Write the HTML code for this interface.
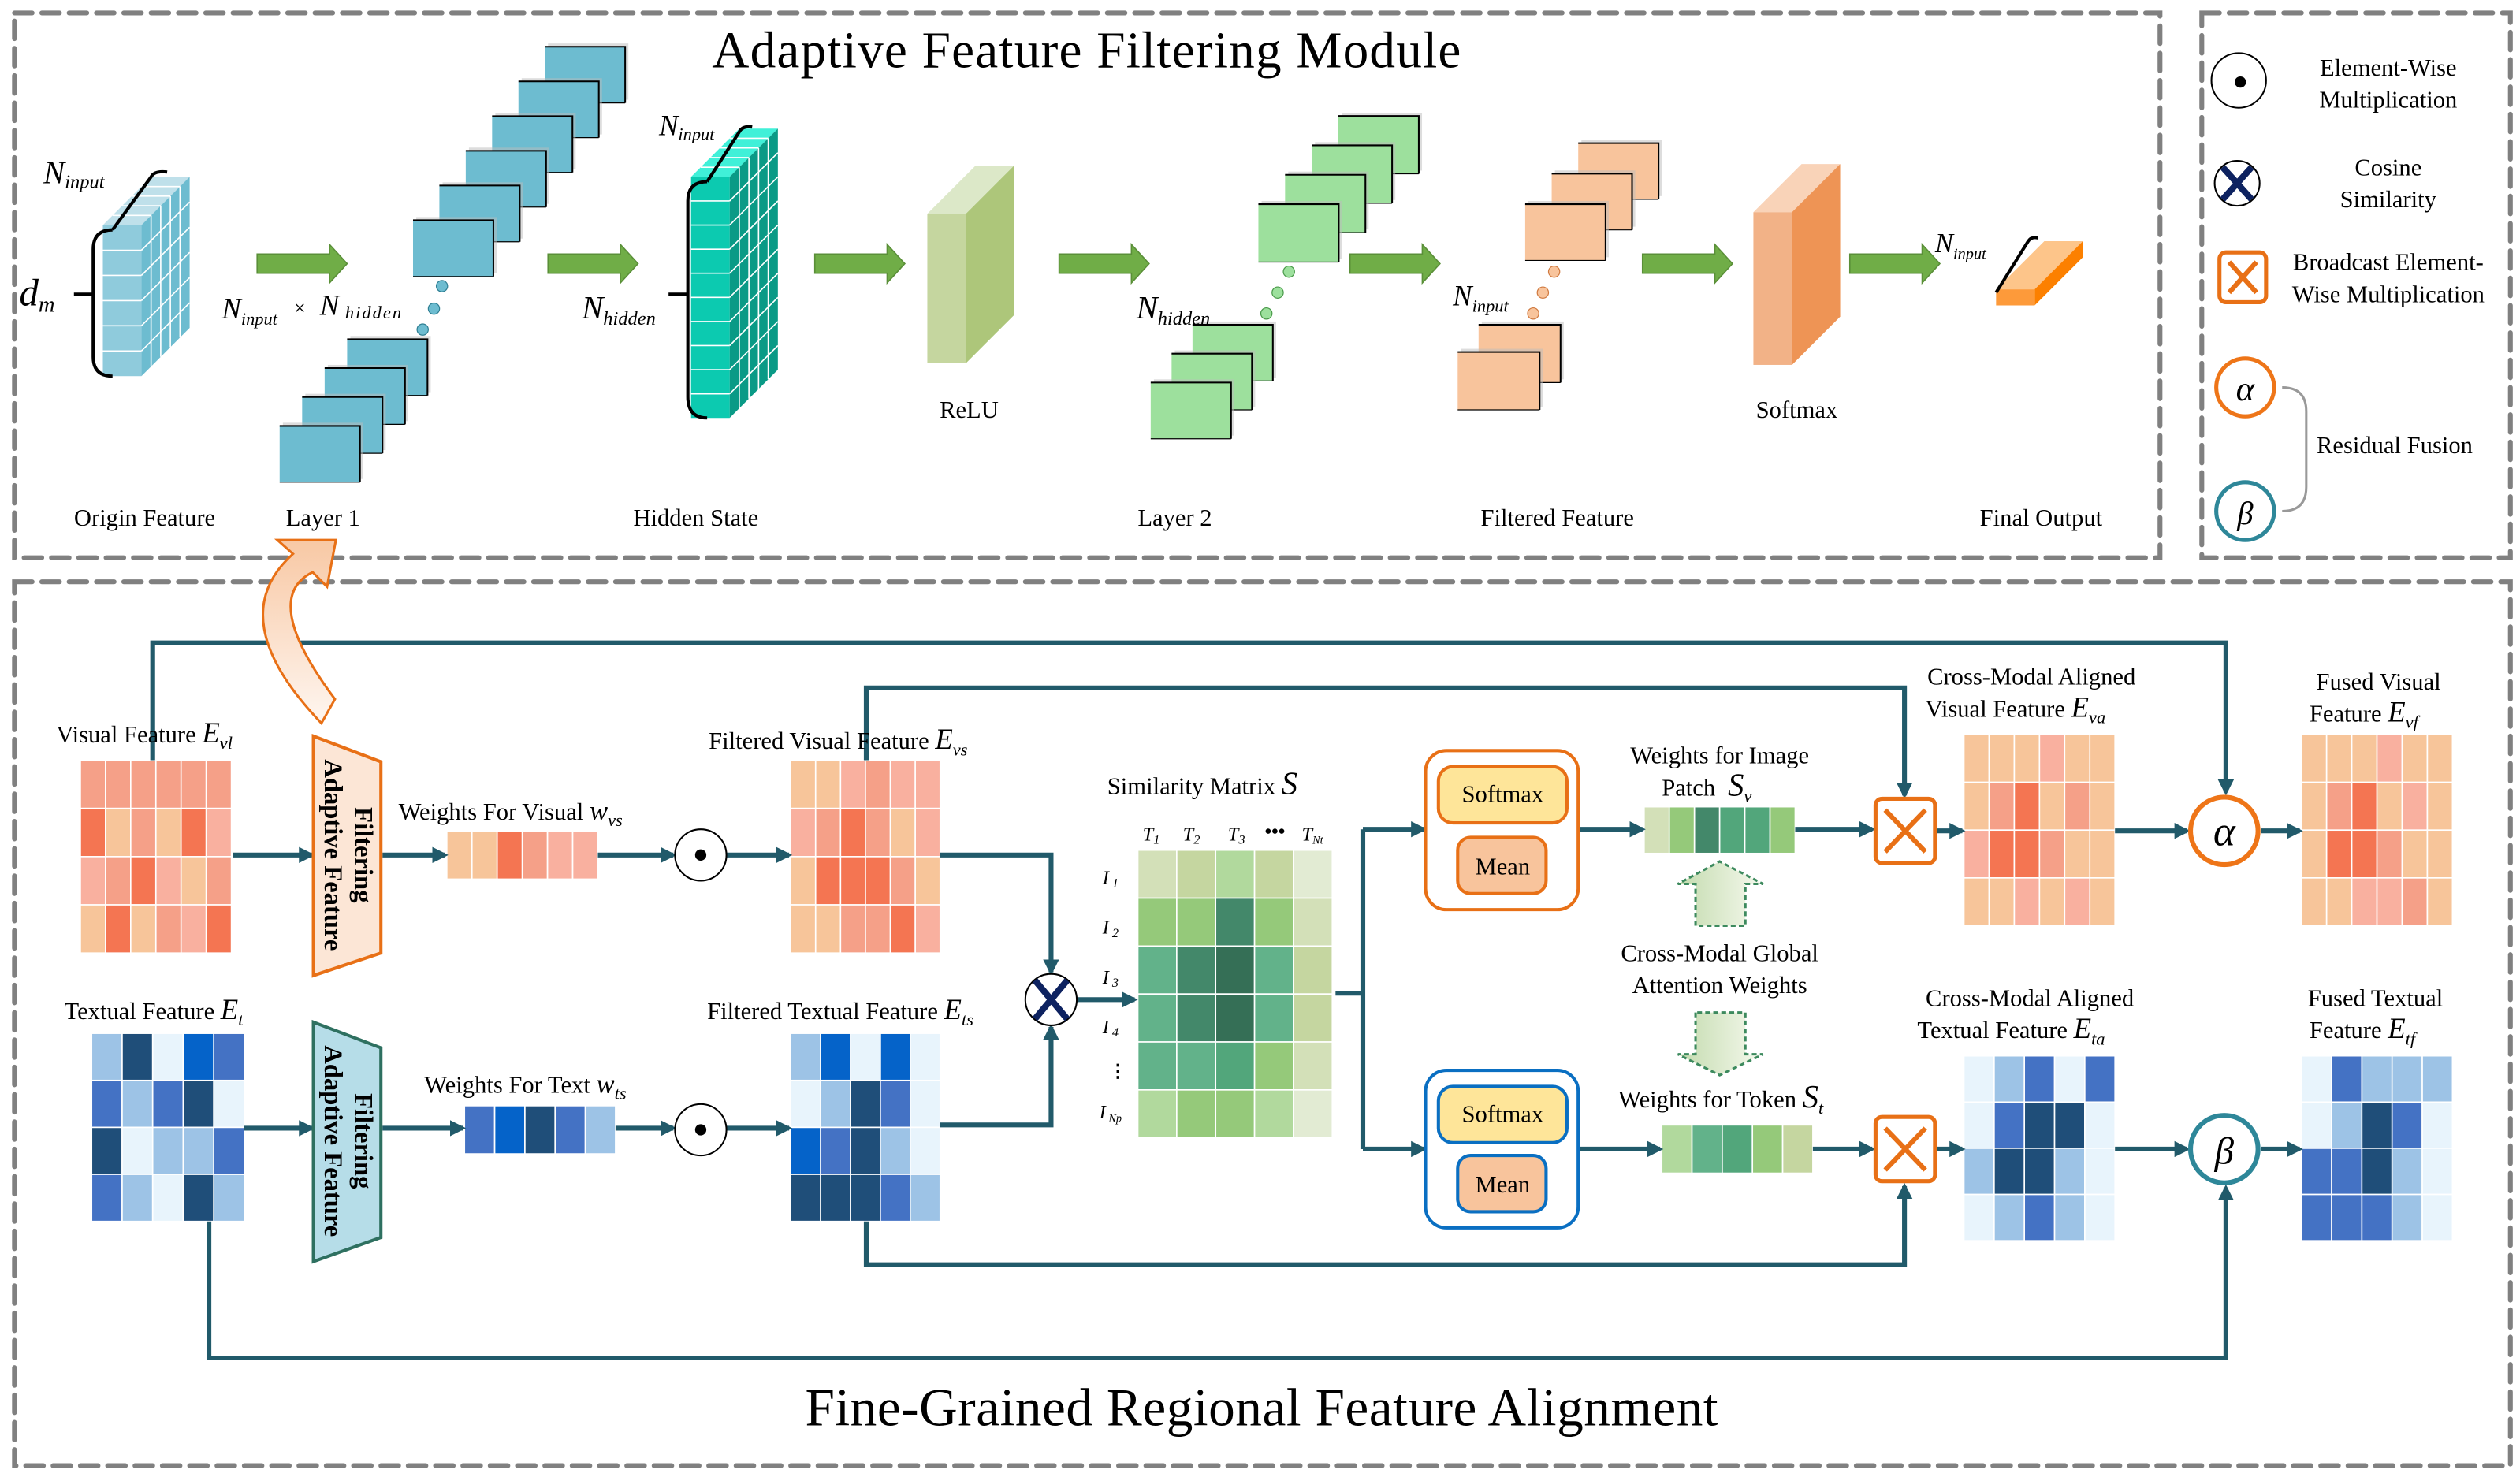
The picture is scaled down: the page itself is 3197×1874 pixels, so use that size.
<!DOCTYPE html>
<html><head><meta charset="utf-8"><style>
html,body{margin:0;padding:0;background:#fff;}
svg{display:block;}
text{font-family:"Liberation Serif",serif;fill:#000;}
.lb{font-size:15px;}
.it{font-style:italic;}
</style></head><body>
<svg id="s" xmlns="http://www.w3.org/2000/svg" width="3197" height="1874" viewBox="0 0 1568 919">
<defs>
<marker id="ah" markerWidth="10" markerHeight="10" refX="8" refY="5" orient="auto" markerUnits="userSpaceOnUse">
<path d="M0,0 L10,5 L0,10 Z" fill="#215a6a"/></marker>
<linearGradient id="og" x1="0" y1="0" x2="0" y2="1"><stop offset="0" stop-color="#f8c8a4"/><stop offset="1" stop-color="#fef6f0"/></linearGradient>
<linearGradient id="gg" x1="0" y1="0" x2="1" y2="0"><stop offset="0" stop-color="#c3dbae"/><stop offset="1" stop-color="#f6f9ee"/></linearGradient>
</defs>
<rect width="1568" height="919" fill="#fff"/>
<g fill="none" stroke="#808080" stroke-width="3" stroke-dasharray="11 6" stroke-linecap="round">
<rect x="9" y="8" width="1335" height="339"/>
<rect x="1370" y="8" width="192" height="339"/>
<rect x="9" y="362" width="1553" height="550"/>
</g>
<text x="676" y="42" font-size="32" text-anchor="middle" textLength="466">Adaptive Feature Filtering Module</text>
<text x="785" y="887" font-size="33" text-anchor="middle" textLength="568">Fine-Grained Regional Feature Alignment</text>

<g id="gen"></g>

<g class="lb" text-anchor="middle">
<text x="90" y="327" class="lb">Origin Feature</text>
<text x="201" y="327" class="lb">Layer 1</text>
<text x="433" y="327" class="lb">Hidden State</text>
<text x="731" y="327" class="lb">Layer 2</text>
<text x="969" y="327" class="lb">Filtered Feature</text>
<text x="1270" y="327" class="lb">Final Output</text>
<text x="603" y="260" class="lb">ReLU</text>
<text x="1118" y="260" class="lb">Softmax</text>
</g>
<g class="it">
<text x="12" y="190" font-size="24" class="it">d<tspan font-size="14" dy="4">m</tspan></text>
<text x="27" y="114" font-size="20" class="it">N<tspan font-size="12" dy="3">input</tspan></text>
<text x="138" y="198" font-size="18" class="it">N<tspan font-size="11" dy="4">input</tspan></text>
<text x="182" y="196" font-size="13">×</text>
<text x="199" y="196" font-size="18" class="it">N<tspan font-size="11" dy="2" letter-spacing="1"> hidden</tspan></text>
<text x="362" y="198" font-size="20" class="it">N<tspan font-size="12" dy="4">hidden</tspan></text>
<text x="410" y="84" font-size="18" class="it">N<tspan font-size="11" dy="3">input</tspan></text>
<text x="707" y="198" font-size="20" class="it">N<tspan font-size="12" dy="4">hidden</tspan></text>
<text x="904" y="190" font-size="18" class="it">N<tspan font-size="11" dy="4">input</tspan></text>
<text x="1204" y="157" font-size="17" class="it">N<tspan font-size="10" dy="4">input</tspan></text>
</g>
<g fill="none" stroke="#000" stroke-width="2">
<path d="M70,143 Q58,143 58,155 L58,222 Q58,234 70,234"/><path d="M46,183 L58,183"/>
<path d="M70,143 L94,110 Q96,106 104,107"/>
<path d="M440,113 Q428,113 428,125 L428,247 Q428,260 440,260"/><path d="M416,183 L428,183"/>
<path d="M440,113 L460,82 Q462,78 468,79"/>
<path d="M1242,182 L1262,150 Q1264,147 1268,148"/>
</g>

<circle cx="1393" cy="50" r="17" fill="#fff" stroke="#000" stroke-width="1"/>
<circle cx="1394" cy="51" r="3.5" fill="#000"/>
<text x="1486" y="47" class="lb" text-anchor="middle">Element-Wise</text>
<text x="1486" y="67" class="lb" text-anchor="middle">Multiplication</text>
<circle cx="1392" cy="114" r="14" fill="#fff" stroke="#000" stroke-width="1"/>
<path d="M1383,104 L1401,124 M1401,104 L1383,124" stroke="#0d2260" stroke-width="4"/>
<text x="1486" y="109" class="lb" text-anchor="middle">Cosine</text>
<text x="1486" y="129" class="lb" text-anchor="middle">Similarity</text>
<rect x="1381" y="157" width="29" height="31" rx="4" fill="#fff" stroke="#e87016" stroke-width="2.5"/>
<path d="M1387,163 L1404,182 M1404,163 L1387,182" stroke="#e87016" stroke-width="3"/>
<text x="1486" y="168" class="lb" text-anchor="middle">Broadcast Element-</text>
<text x="1486" y="188" class="lb" text-anchor="middle">Wise Multiplication</text>
<circle cx="1397" cy="241" r="18" fill="#fff" stroke="#ee7518" stroke-width="2.5"/>
<text x="1397" y="249" font-size="22" class="it" text-anchor="middle">α</text>
<circle cx="1397" cy="318" r="18" fill="#fff" stroke="#2e8799" stroke-width="2.5"/>
<text x="1397" y="326" font-size="20" class="it" text-anchor="middle">β</text>
<path d="M1420,241 Q1435,241 1435,256 L1435,303 Q1435,318 1420,318" fill="none" stroke="#999" stroke-width="1.5"/>
<text x="1490" y="282" class="lb" text-anchor="middle">Residual Fusion</text>

<g fill="none" stroke="#215a6a" stroke-width="3">
<path d="M95,473 L95,400 L1385,400 L1385,493" marker-end="url(#ah)"/>
<path d="M130,760 L130,845 L1385,845 L1385,739" marker-end="url(#ah)"/>
<path d="M539,473 L539,428 L1185,428 L1185,495" marker-end="url(#ah)"/>
<path d="M539,760 L539,787 L1185,787 L1185,738" marker-end="url(#ah)"/>
<path d="M145,532 L194,532" marker-end="url(#ah)"/>
<path d="M238,532 L277,532" marker-end="url(#ah)"/>
<path d="M372,532 L419,532" marker-end="url(#ah)"/>
<path d="M452,532 L491,532" marker-end="url(#ah)"/>
<path d="M152,702 L194,702" marker-end="url(#ah)"/>
<path d="M238,702 L288,702" marker-end="url(#ah)"/>
<path d="M383,702 L419,702" marker-end="url(#ah)"/>
<path d="M452,702 L491,702" marker-end="url(#ah)"/>
<path d="M585,532 L654,532 L654,605" marker-end="url(#ah)"/>
<path d="M585,700 L654,700 L654,639" marker-end="url(#ah)"/>
<path d="M670,622 L706,622" marker-end="url(#ah)"/>
<path d="M831,618 L848,618"/>
<path d="M848,516 L848,715"/>
<path d="M848,516 L886,516" marker-end="url(#ah)"/>
<path d="M848,715 L886,715" marker-end="url(#ah)"/>
<path d="M982,516 L1022,516" marker-end="url(#ah)"/>
<path d="M1117,516 L1165,516" marker-end="url(#ah)"/>
<path d="M982,715 L1033,715" marker-end="url(#ah)"/>
<path d="M1128,715 L1165,715" marker-end="url(#ah)"/>
<path d="M1205,517 L1221,517" marker-end="url(#ah)"/>
<path d="M1205,715 L1221,715" marker-end="url(#ah)"/>
<path d="M1316,517 L1361,517" marker-end="url(#ah)"/>
<path d="M1407,517 L1431,517" marker-end="url(#ah)"/>
<path d="M1316,715 L1361,715" marker-end="url(#ah)"/>
<path d="M1407,715 L1431,715" marker-end="url(#ah)"/>
</g>

<path d="M209,336 L172.6,336 L182.3,344.6 Q137.5,384.7 200,450 L208.4,435 Q161.5,372.3 194.5,356 L203.5,365 Z" fill="url(#og)" stroke="#e87016" stroke-width="1.5"/>

<path d="M195,458 L237,474 L237,593 L195,607 Z" fill="#fce6d6" stroke="#e87016" stroke-width="2"/>
<path d="M195,636 L237,652 L237,770 L195,785 Z" fill="#b6dde8" stroke="#2e7060" stroke-width="2"/>
<g transform="translate(216,532) rotate(90)" font-weight="bold" font-size="16" text-anchor="middle">
<text x="0" y="-5">Filtering</text><text x="0" y="14">Adaptive Feature</text></g>
<g transform="translate(216,710) rotate(90)" font-weight="bold" font-size="16" text-anchor="middle">
<text x="0" y="-5">Filtering</text><text x="0" y="14">Adaptive Feature</text></g>

<circle cx="436" cy="532" r="16" fill="#fff" stroke="#000" stroke-width="1"/><circle cx="436" cy="532" r="3.5"/>
<circle cx="436" cy="703" r="16" fill="#fff" stroke="#000" stroke-width="1"/><circle cx="436" cy="703" r="3.5"/>
<circle cx="654" cy="622" r="16" fill="#fff" stroke="#000" stroke-width="1"/>
<path d="M644,610 L664,634 M664,610 L644,634" stroke="#0d2260" stroke-width="4"/>

<rect x="887" y="467" width="95" height="99" rx="13" fill="#fff" stroke="#e87016" stroke-width="2"/>
<rect x="895" y="477" width="80" height="35" rx="9" fill="#fee599" stroke="#e87016" stroke-width="2"/>
<rect x="907" y="521" width="55" height="35" rx="8" fill="#f8c49c" stroke="#e87016" stroke-width="2"/>
<rect x="887" y="666" width="95" height="98" rx="13" fill="#fff" stroke="#0a6fc2" stroke-width="2"/>
<rect x="895" y="676" width="80" height="35" rx="9" fill="#fee599" stroke="#0a6fc2" stroke-width="2"/>
<rect x="907" y="719" width="55" height="35" rx="8" fill="#f8c49c" stroke="#0a6fc2" stroke-width="2"/>
<g class="lb" text-anchor="middle">
<text x="935" y="499" class="lb">Softmax</text><text x="935" y="544" class="lb">Mean</text>
<text x="935" y="698" class="lb">Softmax</text><text x="935" y="742" class="lb">Mean</text>
</g>

<path d="M1055,576 L1055,550 L1044,550 L1070,536 L1097,550 L1086,550 L1086,576 Z" fill="url(#gg)" stroke="#3d8a5e" stroke-width="1.5" stroke-dasharray="3 2"/>
<path d="M1055,630 L1055,656 L1044,656 L1070,669 L1097,656 L1086,656 L1086,630 Z" fill="url(#gg)" stroke="#3d8a5e" stroke-width="1.5" stroke-dasharray="3 2"/>

<rect x="1167" y="497" width="37" height="40" rx="4" fill="#fff" stroke="#e87016" stroke-width="2.5"/>
<path d="M1173,504 L1198,530 M1198,504 L1173,530" stroke="#e87016" stroke-width="3"/>
<rect x="1167" y="695" width="37" height="40" rx="4" fill="#fff" stroke="#e87016" stroke-width="2.5"/>
<path d="M1173,702 L1198,728 M1198,702 L1173,728" stroke="#e87016" stroke-width="3"/>
<circle cx="1384" cy="517" r="21" fill="#fff" stroke="#ee7518" stroke-width="3"/>
<text x="1384" y="526" font-size="26" class="it" text-anchor="middle">α</text>
<circle cx="1384" cy="715" r="21" fill="#fff" stroke="#2e8799" stroke-width="3"/>
<text x="1384" y="724" font-size="24" class="it" text-anchor="middle">β</text>

<g class="lb">
<text x="35" y="462" class="lb">Visual Feature <tspan class="it" font-size="18">E</tspan><tspan class="it" font-size="11" dy="4">vl</tspan></text>
<text x="40" y="634" class="lb">Textual Feature <tspan class="it" font-size="18">E</tspan><tspan class="it" font-size="11" dy="4">t</tspan></text>
<text x="441" y="466" class="lb">Filtered Visual Feature <tspan class="it" font-size="18">E</tspan><tspan class="it" font-size="11" dy="4">vs</tspan></text>
<text x="440" y="634" class="lb">Filtered Textual Feature <tspan class="it" font-size="18">E</tspan><tspan class="it" font-size="11" dy="4">ts</tspan></text>
<text x="248" y="510" class="lb">Weights For Visual  <tspan class="it" font-size="17">w</tspan><tspan class="it" font-size="11" dy="4">vs</tspan></text>
<text x="264" y="680" class="lb">Weights For Text <tspan class="it" font-size="17">w</tspan><tspan class="it" font-size="11" dy="4">ts</tspan></text>
<text x="689" y="494" class="lb">Similarity Matrix <tspan class="it" font-size="20">S</tspan></text>
<text x="1070" y="475" class="lb" text-anchor="middle">Weights for Image</text>
<text x="1034" y="495" class="lb">Patch <tspan class="it" font-size="20" dx="4">S</tspan><tspan class="it" font-size="11" dy="4">v</tspan></text>
<text x="1070" y="598" class="lb" text-anchor="middle">Cross-Modal Global</text>
<text x="1070" y="618" class="lb" text-anchor="middle">Attention Weights</text>
<text x="1007" y="689" class="lb">Weights for Token <tspan class="it" font-size="20">S</tspan><tspan class="it" font-size="11" dy="4">t</tspan></text>
<text x="1264" y="426" class="lb" text-anchor="middle">Cross-Modal Aligned</text>
<text x="1198" y="446" class="lb">Visual Feature <tspan class="it" font-size="18">E</tspan><tspan class="it" font-size="11" dy="4">va</tspan></text>
<text x="1480" y="429" class="lb" text-anchor="middle">Fused Visual</text>
<text x="1437" y="449" class="lb">Feature  <tspan class="it" font-size="18">E</tspan><tspan class="it" font-size="11" dy="4">vf</tspan></text>
<text x="1263" y="626" class="lb" text-anchor="middle">Cross-Modal Aligned</text>
<text x="1193" y="646" class="lb">Textual Feature <tspan class="it" font-size="18">E</tspan><tspan class="it" font-size="11" dy="4">ta</tspan></text>
<text x="1478" y="626" class="lb" text-anchor="middle">Fused Textual</text>
<text x="1437" y="646" class="lb">Feature  <tspan class="it" font-size="18">E</tspan><tspan class="it" font-size="11" dy="4">tf</tspan></text>
</g>
<g class="it" font-size="12">
<text x="711" y="523">T<tspan font-size="8" dy="2">1</tspan></text>
<text x="736" y="523">T<tspan font-size="8" dy="2">2</tspan></text>
<text x="764" y="523">T<tspan font-size="8" dy="2">3</tspan></text>
<text x="787" y="521" font-style="normal" font-weight="bold" fill="#1f4e79">•••</text>
<text x="810" y="523">T<tspan font-size="7" dy="2">Nt</tspan></text>
<text x="686" y="550">I<tspan font-size="8" dy="2"> 1</tspan></text>
<text x="686" y="581">I<tspan font-size="8" dy="2"> 2</tspan></text>
<text x="686" y="612">I<tspan font-size="8" dy="2"> 3</tspan></text>
<text x="686" y="643">I<tspan font-size="8" dy="2"> 4</tspan></text>
<text x="690" y="670" font-style="normal" font-weight="bold" fill="#1f4e79" font-size="11">⋮</text>
<text x="684" y="696">I<tspan font-size="7" dy="2"> Np</tspan></text>
</g>
</svg>
<script>
(function(){
var NS="http://www.w3.org/2000/svg",g=document.getElementById("gen");
function el(t,a){var e=document.createElementNS(NS,t);for(var k in a)e.setAttribute(k,a[k]);g.appendChild(e);return e;}
var C={A:"#f7c59a",B:"#f9b09f",C:"#f5a088",D:"#f47552",L:"#9dc3e6",N:"#1f4e79",W:"#e8f4fc",M:"#0563c9",S:"#4472c4",
P1:"#d3e0b8",P2:"#c5d6a0",P3:"#b1d99d",G:"#95c97a",T:"#62b28a",T2:"#52a67b",K:"#43886a",KK:"#356f56",X:"#e2ebd3"};
function grid(x,y,w,h,rows){var R=rows.length,Cc=rows[0].length,cw=w/Cc,rh=h/R;
for(var i=0;i<R;i++)for(var j=0;j<Cc;j++)el("rect",{x:x+j*cw,y:y+i*rh,width:cw,height:rh,fill:C[rows[i][j]],stroke:"#fff","stroke-width":0.8});}
grid(50,473,94,120,[["C","C","C","C","C","C"],["D","A","C","A","D","B"],["B","C","D","B","A","C"],["A","D","A","C","B","D"]]);
grid(278,517,94,30,[["A","A","D","C","B","B"]]);
grid(492,473,93,120,[["A","A","B","C","B","B"],["B","C","D","C","A","B"],["A","D","D","D","C","A"],["A","A","C","C","D","B"]]);
grid(57,643,95,117,[["L","N","W","M","S"],["S","L","S","N","W"],["N","W","L","L","S"],["S","L","W","N","L"]]);
grid(289,688,94,30,[["S","M","N","S","L"]]);
grid(492,643,93,117,[["L","M","W","M","W"],["W","L","N","S","W"],["M","S","N","L","W"],["N","N","N","S","L"]]);
grid(708,529,121,179,[["P1","P2","P3","P2","X"],["G","G","K","G","P1"],["T","K","KK","T","P2"],["T","K","KK","T","P2"],["T","T","T2","G","P1"],["P3","G","G","P3","X"]]);
grid(1023,502,94,29,[["P1","G","K","T2","T2","G"]]);
grid(1034,700,94,30,[["P3","T","T2","G","P2"]]);
grid(1222,457,94,119,[["A","A","A","B","A","A"],["A","C","D","A","C","A"],["B","D","D","C","A","A"],["A","A","B","A","B","A"]]);
grid(1432,457,94,119,[["A","A","A","B","A","A"],["A","C","D","A","B","A"],["A","D","D","C","A","A"],["A","A","B","B","C","A"]]);
grid(1222,657,94,115,[["W","L","S","W","S"],["W","S","N","N","W"],["L","N","N","L","W"],["W","L","S","L","W"]]);
grid(1432,657,94,115,[["W","S","L","L","L"],["W","L","N","S","W"],["S","S","N","L","W"],["S","S","S","L","W"]]);
function block(x,y,w,h,dx,dy,front,side,top,rows,cols){
el("polygon",{points:[x,y,x+w,y,x+w+dx,y-dy,x+dx,y-dy].join(","),fill:top});
el("polygon",{points:[x+w,y,x+w+dx,y-dy,x+w+dx,y+h-dy,x+w,y+h].join(","),fill:side});
el("rect",{x:x,y:y,width:w,height:h,fill:front});
if(rows){for(var i=1;i<rows;i++){var yy=y+h*i/rows;el("line",{x1:x,y1:yy,x2:x+w,y2:yy,stroke:"#fff","stroke-width":0.8});el("line",{x1:x+w,y1:yy,x2:x+w+dx,y2:yy-dy,stroke:"#fff","stroke-width":0.8});}
for(var k=1;k<cols;k++){var f=k/cols;el("line",{x1:x+w+dx*f,y1:y-dy*f,x2:x+w+dx*f,y2:y+h-dy*f,stroke:"#fff","stroke-width":0.8});el("line",{x1:x+dx*f,y1:y-dy*f,x2:x+w+dx*f,y2:y-dy*f,stroke:"#fff","stroke-width":0.8});}}}
block(64,140,24,94,30,30,"#8fcbdc","#6dbcd0","#bfe0ea",6,5);
block(430,110,24,150,30,30,"#0ccab0","#0a9a86","#40f0d8",10,5);
block(577,133,24,93,30,30,"#c5d69f","#adc67a","#dce8c8");
block(1091,132,24,95,30,30,"#f2b287","#ee9455","#f9d3b8");
block(1242,180,24,10,30,30,"#fd9a3a","#fc8000","#fdc58a");
function sq(x,y,w,h,f){el("rect",{x:x+2,y:y-2,width:w,height:h,fill:"#bbb",opacity:0.5});el("rect",{x:x,y:y,width:w,height:h,fill:f});
el("path",{d:"M"+x+","+y+" L"+(x+w)+","+y+" L"+(x+w)+","+(y+h),fill:"none",stroke:"#000","stroke-width":1});el("line",{x1:x,y1:y+h,x2:x+w,y2:y+h,stroke:"#000","stroke-width":0.6});}
var i;
for(i=5;i>=0;i--)sq(257+i*16.4,137-i*21.6,50,35,"#6dbcd0");
for(i=3;i>=0;i--)sq(174+i*14,265-i*18,50,35,"#6dbcd0");
[[275,178],[270,192],[263,205]].forEach(function(p){el("circle",{cx:p[0],cy:p[1],r:3.5,fill:"#6dbcd0",stroke:"#2f7f93","stroke-width":0.6});});
for(i=3;i>=0;i--)sq(783+i*16.6,127-i*18.3,50,36,"#9de09d");
for(i=2;i>=0;i--)sq(716+i*13,238-i*18,50,35,"#9de09d");
[[802,169],[795,182],[788,195]].forEach(function(p){el("circle",{cx:p[0],cy:p[1],r:3.5,fill:"#9de09d",stroke:"#4a9a4a","stroke-width":0.6});});
for(i=2;i>=0;i--)sq(949+i*16.5,127-i*19,50,35,"#f8c49c");
for(i=1;i>=0;i--)sq(907+i*13,219-i*17,51,36,"#f8c49c");
[[967,169],[960,182],[954,195]].forEach(function(p){el("circle",{cx:p[0],cy:p[1],r:3.5,fill:"#f8c49c",stroke:"#d07a40","stroke-width":0.6});});
[160,341,507,659,840,1022,1151].forEach(function(x){var L=56,y=164;
el("polygon",{points:[x,y-6,x+L-11,y-6,x+L-11,y-12,x+L,y,x+L-11,y+12,x+L-11,y+6,x,y+6].join(","),fill:"#70ad47",stroke:"#5a8f38","stroke-width":0.8});});
})();
</script>
</body></html>
